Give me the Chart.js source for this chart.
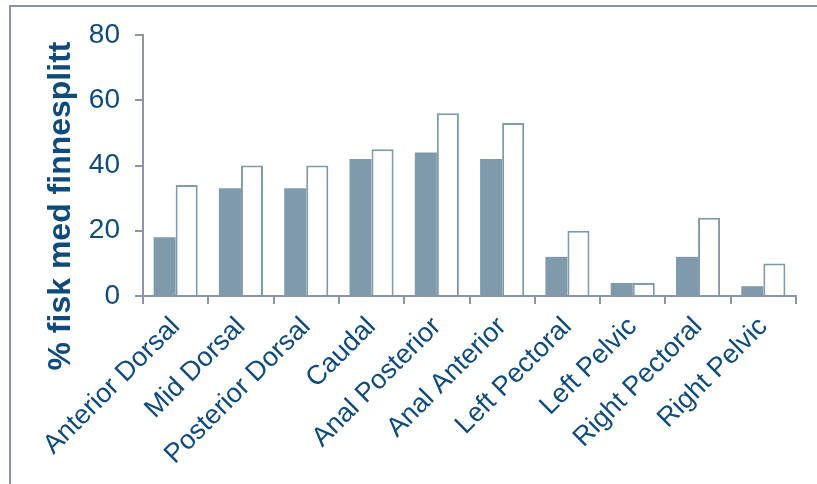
<!DOCTYPE html>
<html>
<head>
<meta charset="utf-8">
<script src="https://cdn.jsdelivr.net/npm/chart.js@4"></script>
<style>
  html, body { margin: 0; padding: 0; background: #fff; }
  #wrap { position: relative; width: 817px; height: 484px; }
  #frame { position: absolute; left: 9px; top: 5px; right: -5px; bottom: -5px;
           border-left: 2px solid #8c94ab; border-top: 2px solid #8c94ab; }
  canvas { position: absolute; left: 0; top: 0; }
</style>
</head>
<body>
<div id="wrap">
  <div id="frame"></div>
  <canvas id="myBarChart" width="817" height="484"></canvas>
</div>
<script>
// categories and values
const categories = ['Anterior Dorsal', 'Mid Dorsal', 'Posterior Dorsal', 'Caudal', 'Anal Posterior',
  'Anal Anterior', 'Left Pectoral', 'Left Pelvic', 'Right Pectoral', 'Right Pelvic'];
const seriesA = [18, 33, 33, 42, 44, 42, 12, 4, 12, 3];
const seriesB = [34, 40, 40, 45, 56, 53, 20, 4, 24, 10];
const yTicks = [0, 20, 40, 60, 80];
const yTitle = '% fisk med finnesplitt';

const textColor = '#0f4a7c';
const axisColor = '#8c94ab';
const barColor = '#7f9aab';

// y axis title drawn by hand so it can sit lower than the chart area centre
const yTitlePlugin = {
  id: 'yTitle',
  afterDraw(chart) {
    const ctx = chart.ctx;
    ctx.save();
    ctx.translate(61, 206);
    ctx.rotate(-Math.PI / 2);
    ctx.font = 'bold 32px "Liberation Sans", Arial, sans-serif';
    ctx.fillStyle = textColor;
    ctx.textAlign = 'center';
    ctx.textBaseline = 'middle';
    ctx.fillText(yTitle, 0, 0);
    ctx.restore();
  }
};

const ctxBar = document.getElementById('myBarChart').getContext('2d');
const myBarChart = new Chart(ctxBar, {
  type: 'bar',
  data: {
    labels: categories,
    datasets: [{
      data: seriesA,
      backgroundColor: barColor,
      borderColor: barColor,
      borderWidth: 0
    }, {
      data: seriesB,
      backgroundColor: '#ffffff',
      borderColor: barColor,
      borderWidth: 2
    }]
  },
  options: {
    responsive: false,
    animation: false,
    categoryPercentage: 0.675,
    barPercentage: 1,
    layout: { padding: { top: 35, right: 21, left: 0, bottom: 0 } },
    plugins: {
      legend: { display: false },
      tooltip: { enabled: false }
    },
    scales: {
      x: {
        afterFit(scale) { scale.height = 188; },
        grid: { display: true, drawOnChartArea: false, color: axisColor, lineWidth: 2, tickLength: 8, offset: true },
        border: { color: axisColor, width: 2 },
        ticks: {
          color: textColor,
          font: { family: '"Liberation Sans", Arial, sans-serif', size: 27 },
          minRotation: 45,
          maxRotation: 45,
          padding: 7
        }
      },
      y: {
        min: 0,
        max: 80,
        afterFit(scale) { scale.width = 143; },
        afterBuildTicks(scale) { scale.ticks = yTicks.map(v => ({ value: v })); },
        grid: { display: true, drawOnChartArea: false, color: axisColor, lineWidth: 2, tickLength: 8 },
        border: { color: axisColor, width: 2 },
        ticks: {
          color: textColor,
          font: { family: '"Liberation Sans", Arial, sans-serif', size: 28 },
          padding: 15
        }
      }
    }
  },
  plugins: [yTitlePlugin]
});
</script>
</body>
</html>
